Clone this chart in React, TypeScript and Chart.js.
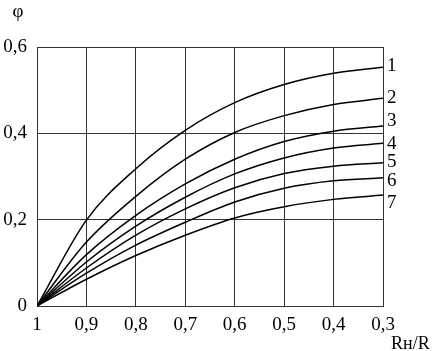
import React, { useEffect, useRef } from "react";
import { Chart, registerables } from "chart.js";

Chart.register(...registerables);

const xValues = [1, 0.9, 0.8, 0.7, 0.6, 0.5, 0.4, 0.3];
const curve1 = [0, 0.199, 0.318, 0.407, 0.471, 0.513, 0.539, 0.553];
const curve2 = [0, 0.148, 0.254, 0.34, 0.402, 0.441, 0.467, 0.481];
const curve3 = [0, 0.119, 0.21, 0.283, 0.34, 0.381, 0.405, 0.417];
const curve4 = [0, 0.102, 0.185, 0.252, 0.306, 0.343, 0.366, 0.377];
const curve5 = [0, 0.088, 0.164, 0.225, 0.274, 0.307, 0.324, 0.332];
const curve6 = [0, 0.076, 0.141, 0.194, 0.241, 0.273, 0.29, 0.297];
const curve7 = [0, 0.062, 0.117, 0.164, 0.204, 0.23, 0.247, 0.257];
const curveNames = ["1", "2", "3", "4", "5", "6", "7"];
const labelPhi = [0.556, 0.482, 0.4285, 0.375, 0.333, 0.29, 0.239];
const yTitle = "φ";
const xTitleMain = "Rн/R";

const FONT = '"Liberation Serif", "Times New Roman", serif';

const fmt = (v: number) => {
  const r = Math.round(v * 10) / 10;
  return String(r).replace(".", ",");
};

const textPlugin = {
  id: "textPlugin",
  afterDraw(chart: any) {
    const ctx = chart.ctx;
    const xs = chart.scales.x;
    const ys = chart.scales.y;
    ctx.save();
    ctx.fillStyle = "#000";
    ctx.font = `19px ${FONT}`;
    ctx.textAlign = "left";
    ctx.textBaseline = "middle";
    const rightX = xs.getPixelForValue(xValues[xValues.length - 1]);
    curveNames.forEach((n, i) => {
      ctx.fillText(n, rightX + 4, ys.getPixelForValue(labelPhi[i]));
    });
    ctx.textAlign = "center";
    ctx.fillText(yTitle, 18, 12);
    ctx.textAlign = "left";
    ctx.textBaseline = "alphabetic";
    ctx.font = `18px ${FONT}`;
    ctx.fillText(xTitleMain, 391, 349);
    ctx.restore();
  },
};

export default function App() {
  const ref = useRef<HTMLCanvasElement | null>(null);
  useEffect(() => {
    document.body.style.margin = "0";
    const series = [curve1, curve2, curve3, curve4, curve5, curve6, curve7];
    const chart = new Chart(ref.current as HTMLCanvasElement, {
      type: "line",
      data: {
        datasets: series.map((s, i) => ({
          label: curveNames[i],
          data: xValues.map((x, j) => ({ x, y: s[j] })),
          borderColor: "#000",
          borderWidth: 1.5,
          pointRadius: 0,
          fill: false,
          cubicInterpolationMode: "monotone" as const,
        })),
      },
      options: {
        animation: false,
        responsive: false,
        events: [],
        layout: { padding: { top: 47, right: 50, left: 1, bottom: 0 } },
        plugins: {
          legend: { display: false },
          tooltip: { enabled: false },
        },
        scales: {
          x: {
            type: "linear",
            min: 0.3,
            max: 1,
            reverse: true,
            afterFit: (s: any) => {
              s.height = 45;
            },
            ticks: {
              stepSize: 0.1,
              color: "#000",
              font: { family: FONT, size: 19 },
              padding: 8,
              maxRotation: 0,
              autoSkip: false,
              callback: (v: any) => fmt(Number(v)),
            },
            grid: { color: "#333", lineWidth: 1, drawTicks: false },
            border: { color: "#333", width: 1 },
          },
          y: {
            type: "linear",
            min: 0,
            max: 0.6,
            afterFit: (s: any) => {
              s.width = 36;
            },
            ticks: {
              stepSize: 0.2,
              color: "#000",
              font: { family: FONT, size: 19 },
              padding: 10,
              callback: (v: any) => fmt(Number(v)),
            },
            grid: { color: "#333", lineWidth: 1, drawTicks: false },
            border: { color: "#333", width: 1 },
          },
        },
      },
      plugins: [textPlugin],
    });
    return () => chart.destroy();
  }, []);
  return <canvas ref={ref} width={433} height={351} style={{ display: "block" }} />;
}
